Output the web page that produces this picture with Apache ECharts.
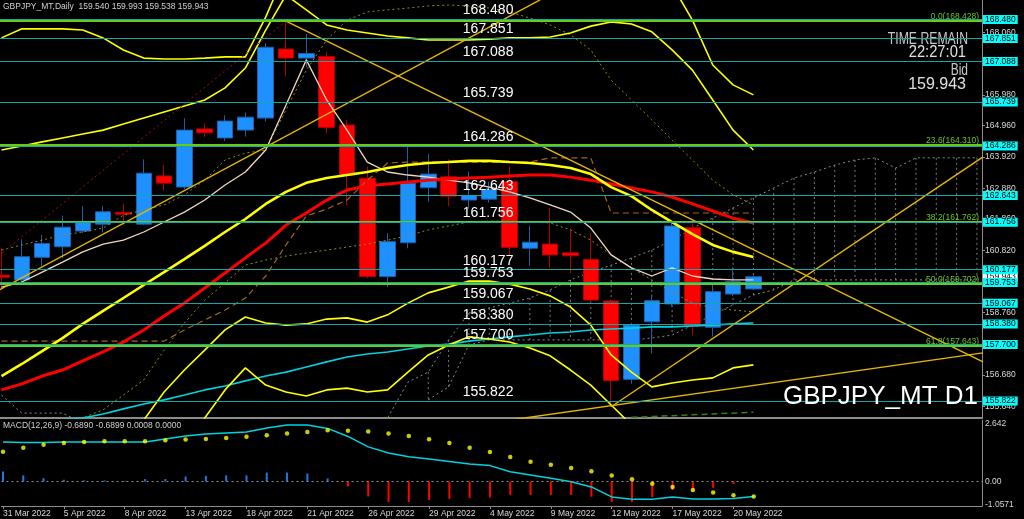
<!DOCTYPE html>
<html><head><meta charset="utf-8">
<script src="https://cdn.jsdelivr.net/npm/echarts@6/dist/echarts.min.js"></script>
<style>html,body{margin:0;padding:0;background:#000;}#c{width:1024px;height:519px;}</style>
</head><body><div id="c"></div>
<script>
const dates = ['31 Mar 2022','1 Apr 2022','4 Apr 2022','5 Apr 2022','6 Apr 2022','7 Apr 2022','8 Apr 2022','11 Apr 2022','12 Apr 2022','13 Apr 2022','14 Apr 2022','15 Apr 2022','18 Apr 2022','19 Apr 2022','20 Apr 2022','21 Apr 2022','22 Apr 2022','25 Apr 2022','26 Apr 2022','27 Apr 2022','28 Apr 2022','29 Apr 2022','2 May 2022','3 May 2022','4 May 2022','5 May 2022','6 May 2022','9 May 2022','10 May 2022','11 May 2022','12 May 2022','13 May 2022','16 May 2022','17 May 2022','18 May 2022','19 May 2022','20 May 2022','23 May 2022'];
const open  = [160.00,159.84,160.59,160.94,161.46,161.69,162.08,161.69,163.29,162.92,164.85,164.55,164.81,165.21,167.50,167.20,167.25,164.98,163.21,159.95,161.07,162.90,163.26,162.49,162.52,163.10,160.89,161.03,160.74,160.52,159.14,156.54,158.45,159.04,161.57,158.27,159.37,159.540];
const close = [159.93,160.61,161.05,161.59,161.77,162.10,162.02,163.38,163.05,164.81,164.72,165.11,165.24,167.56,167.20,167.35,164.90,163.32,159.95,161.11,163.05,163.35,162.62,162.64,162.85,160.92,161.09,160.67,160.64,159.17,156.50,158.34,159.15,161.63,158.31,159.45,159.78,159.943];
const low   = [159.50,159.75,160.28,160.56,161.40,161.41,161.66,161.65,162.80,162.85,164.58,164.45,164.60,165.10,166.60,166.90,164.70,162.32,159.90,159.60,160.89,162.43,162.29,162.20,162.40,160.67,160.31,160.22,160.06,159.10,155.63,156.40,157.40,158.95,158.01,157.96,159.30,159.538];
const high  = [160.90,161.19,161.33,161.97,162.29,162.29,162.38,163.84,163.65,165.20,165.03,165.30,165.40,167.70,168.43,168.00,167.40,165.15,163.60,161.39,164.26,164.02,163.84,163.43,163.10,163.60,161.63,162.22,161.55,161.39,159.20,158.40,159.35,161.77,161.80,159.70,160.26,159.993];

const maYellow = [156.65,157.05,157.48,157.91,158.38,158.81,159.24,159.67,160.10,160.53,160.97,161.43,161.86,162.36,162.76,163.06,163.22,163.32,163.42,163.55,163.65,163.72,163.75,163.79,163.79,163.75,163.72,163.65,163.55,163.35,162.92,162.62,162.16,161.76,161.36,161.00,160.77,160.60];
const maRed = [156.19,156.39,156.65,156.85,157.15,157.45,157.78,158.18,158.64,159.07,159.57,160.07,160.57,161.06,161.66,162.06,162.49,162.82,162.96,163.02,163.09,163.15,163.19,163.22,163.25,163.29,163.32,163.32,163.25,163.15,163.02,162.89,162.76,162.59,162.36,162.13,161.89,161.73];
const tenkan = [159.60,159.77,160.10,160.43,160.77,161.03,161.16,161.43,161.76,162.09,162.49,162.99,163.42,164.15,165.64,167.14,165.81,164.81,163.75,163.42,163.32,163.25,163.15,163.06,162.92,162.76,162.56,162.33,162.09,161.56,160.67,160.24,159.97,160.24,159.97,159.87,159.84,159.84];
const maCyan = [154.90,155.00,155.10,155.20,155.26,155.39,155.56,155.72,155.86,156.02,156.19,156.32,156.49,156.65,156.78,156.95,157.12,157.28,157.38,157.45,157.55,157.65,157.71,157.81,157.88,157.95,158.01,158.08,158.11,158.18,158.21,158.24,158.28,158.28,158.31,158.34,158.38,158.41];
const kijun = [157.81,157.81,157.81,157.81,157.81,157.81,157.81,157.81,157.81,158.18,158.51,158.84,159.24,159.97,161.00,161.96,162.19,162.49,163.15,163.72,163.75,163.75,163.75,163.75,163.75,163.75,163.75,163.89,163.89,163.89,162.06,162.06,162.06,162.06,162.06,162.06,162.06,162.06];
const bandUp2 = [164.15,164.28,164.42,164.55,164.68,164.81,165.01,165.21,165.41,165.61,165.81,166.21,166.87,168.13,169.29,168.80,168.30,168.13,168.03,167.93,167.87,167.80,167.80,167.80,167.83,167.87,167.87,167.90,168.03,168.26,168.40,168.33,168.07,167.47,166.80,165.81,164.81,164.15];
const bandUp3 = [167.87,168.17,168.17,168.17,168.13,167.87,167.47,167.20,167.17,167.17,167.20,167.24,167.24,168.56,170.12,170.5,170.5,170.5,170.5,170.5,170.5,170.5,170.5,170.5,170.5,170.5,170.5,170.5,170.5,170.5,170.5,170.5,170.5,169.62,168.46,166.97,166.31,165.98];
const bandDn2 = [153.53,153.53,153.53,153.53,153.53,153.53,153.53,155.19,156.12,156.85,157.51,158.18,158.61,158.41,158.34,158.38,158.54,158.58,158.44,158.68,159.07,159.41,159.60,159.80,159.80,159.70,159.54,159.31,158.94,158.34,157.35,156.78,156.29,156.42,156.52,156.59,156.92,157.02];
const bandDn3 = [153.0,153.0,153.0,153.0,153.0,153.0,153.0,153.0,153.0,153.8,155.26,156.19,156.92,156.35,156.12,155.99,156.19,156.25,156.12,156.19,156.78,157.35,157.68,157.95,157.88,157.78,157.58,157.32,156.85,156.35,155.69,155.03,154.5,154.5,154.5,154.5,154.5,154.5];
const oliveA = [160.83,161.00,161.16,161.33,161.43,161.56,161.99,162.16,162.33,162.66,163.15,163.82,164.05,164.15,165.48,166.80,167.80,168.46,168.73,168.80,168.86,168.93,168.96,168.93,168.86,168.73,168.53,168.30,167.97,167.47,166.47,165.81,165.15,164.48,163.82,163.15,162.66,162.33];
const oliveB = [null,null,null,154.9,155.26,155.53,156.02,156.52,157.51,158.41,159.17,159.74,160.33,160.50,160.63,160.73,160.83,160.93,161.03,161.16,161.30,161.50,161.63,161.76,161.79,161.79,161.76,161.73,161.50,161.16,160.67,160.24,159.84,159.44,159.07,158.91,158.84,158.78];
const spanA = [156.02,155.42,155.42,155.42,155.10,null,null,null,null,null,null,null,null,null,null,null,null,null,154.80,155.26,156.45,156.78,157.85,158.74,158.91,159.07,159.24,159.51,159.84,160.10,160.33,160.57,160.83,161.16,161.56,161.89,162.23,162.56,162.89,163.22,163.42,163.65,163.82,163.89,163.55,163.89,163.89,163.89,163.89];
const spanB = [null,null,null,null,null,null,null,null,null,null,null,null,null,null,null,null,null,null,null,null,null,155.86,156.29,157.68,157.85,157.85,157.85,157.85,157.85,157.85,157.85,157.85,157.91,158.01,158.34,158.68,159.01,159.34,159.51,159.84,159.84,159.84,159.84,159.84,159.84,159.84,159.84,159.84,159.84];

const trendRise = [[-0.1,159.51],[26.5,169.13]];
const trendFall = [[14,168.43],[48.3,157.12]];
const trendRiseLow = [[30,155.63],[48.3,163.92]];
const trendBase = [[20,154.71],[48.3,157.42]];
const fibBase = [[-17.7,150.98],[14,168.428]];
const greenDash = [[31,155.28],[37,155.45]];

const priceTicks = [168.060,165.980,164.960,163.920,162.880,161.860,160.820,158.760,156.680,155.640];
const hLevels = [168.480,167.851,167.088,165.739,164.286,162.643,161.756,160.177,159.753,159.067,158.380,157.700,155.822];
const fibLevels = [168.428,164.310,161.762,159.702,157.643];
const fibNames = ['0.0','23.6','38.2','50.0','61.8'];
const bidPrice = 159.943;

const macdMain = [1.815,1.79,1.79,1.815,1.815,1.815,1.815,1.815,1.95,2.09,2.18,2.23,2.27,2.46,2.60,2.60,2.44,2.07,1.59,1.31,1.14,1.03,0.92,0.80,0.73,0.45,0.30,0.15,-0.01,-0.25,-0.71,-0.82,-0.82,-0.71,-0.80,-0.80,-0.78,-0.689];
const macdSignal = [1.37,1.55,1.69,1.77,1.82,1.85,1.85,1.85,1.90,1.93,1.95,2.00,2.06,2.12,2.20,2.27,2.35,2.33,2.30,2.20,2.09,1.94,1.77,1.55,1.36,1.13,0.91,0.77,0.62,0.47,0.27,0.10,-0.10,-0.25,-0.39,-0.51,-0.63,-0.69];
const macdHist = [0.46,0.28,0.15,0.08,0.05,0.05,0.03,0.11,0.11,0.23,0.26,0.28,0.28,0.41,0.41,0.37,0.14,-0.23,-0.69,-0.94,-0.94,-0.85,-0.80,-0.76,-0.73,-0.62,-0.62,-0.62,-0.62,-0.70,-0.94,-0.94,-0.73,-0.39,-0.47,-0.29,-0.12,0.0008];
const macdTicks = [2.642,0,-1.0571];
const macdTickLabels = ['2.642','0.00','-1.0571'];
const xTickIdx = [0,3,6,9,12,15,18,21,24,27,30,33,36];

const XMIN=-0.075, XMAX=48.25;
const FONT='"Liberation Sans", Arial, sans-serif';
const pts = arr => arr.map((v,i)=>[i,v]);
const chart = echarts.init(document.getElementById('c'), null, {renderer:'canvas'});
const CLEAR = 'rgba(0,0,0,0)';

function lineS(name, arr, color, width, type, z){
  return {name, type:'line', xAxisIndex:0, yAxisIndex:0, data:pts(arr), showSymbol:false, symbol:'none',
    lineStyle:{color, width, type:type||'solid'}, z:z||3, silent:true, animation:false, clip:true};
}
function segS(seg, color, width, type){
  return {type:'line', xAxisIndex:0, yAxisIndex:0, data:seg, showSymbol:false, symbol:'none',
    lineStyle:{color, width, type:type||'solid'}, z:4, silent:true, animation:false, clip:true};
}
const hatchData = [];
spanA.forEach((a,i)=>{ if(i>=19 && a!=null && spanB[i]!=null) hatchData.push([i,a,spanB[i]]); });

const option = {
  backgroundColor:'#000',
  animation:false,
  grid:[{left:0, top:0, width:982, height:418},{left:0, top:420, width:982, height:86}],
  xAxis:[
    {type:'value', gridIndex:0, min:XMIN, max:XMAX, axisLine:{show:true, onZero:false, lineStyle:{color:'#8c8c8c', width:2}}, axisTick:{show:false}, axisLabel:{show:false}, splitLine:{show:false}},
    {type:'value', gridIndex:1, min:XMIN, max:XMAX, axisLine:{show:true, onZero:false, lineStyle:{color:'#8c8c8c', width:1}},
      axisTick:{show:true, customValues:xTickIdx, length:3, lineStyle:{color:'#8c8c8c'}},
      axisLabel:{show:true, customValues:xTickIdx, formatter:v=>dates[Math.round(v)]||'', align:'left', margin:3, color:'#d8d8d8', fontSize:8.5, fontFamily:FONT},
      splitLine:{show:false}}
  ],
  yAxis:[
    {type:'value', gridIndex:0, position:'right', min:155.258, max:169.127,
      axisLine:{show:true, onZero:false, lineStyle:{color:'#8c8c8c'}}, axisTick:{show:true, customValues:priceTicks, length:3, lineStyle:{color:'#8c8c8c'}},
      axisLabel:{customValues:priceTicks, formatter:v=>v.toFixed(3), color:'#d8d8d8', fontSize:8.5, fontFamily:FONT, margin:3}, splitLine:{show:false}},
    {type:'value', gridIndex:1, position:'right', min:-1.126, max:2.826,
      axisLine:{show:true, onZero:false, lineStyle:{color:'#8c8c8c'}}, axisTick:{show:false},
      axisLabel:{customValues:macdTicks, formatter:v=>{const k=macdTicks.findIndex(t=>Math.abs(t-v)<1e-6); return k>=0?macdTickLabels[k]:'';}, color:'#d8d8d8', fontSize:8.5, fontFamily:FONT, margin:3}, splitLine:{show:false}}
  ],
  series:[
    {type:'custom', xAxisIndex:0, yAxisIndex:0, data:hatchData, z:1, silent:true, clip:true,
      renderItem:(params, api)=>{
        const p1 = api.coord([api.value(0), api.value(1)]);
        const p2 = api.coord([api.value(0), api.value(2)]);
        return {type:'line', shape:{x1:p1[0], y1:p1[1], x2:p2[0], y2:p2[1]}, style:{stroke:'#7a7a7a', lineWidth:1, lineDash:[2,3]}};
      }},
    lineS('spanA', spanA, '#8a8a8a', 1, [2,3], 1),
    lineS('spanB', spanB, '#8a8a8a', 1, [2,3], 1),
    {type:'candlestick', xAxisIndex:0, yAxisIndex:0, z:2, barWidth:16, silent:true,
      data:dates.map((d,i)=>[i, open[i], close[i], low[i], high[i]]), encode:{x:0, y:[1,2,3,4]},
      itemStyle:{color:'#1e90ff', color0:'#ff0000', borderColor:'#1f5fa8', borderColor0:'#b00000', borderWidth:1}},
    lineS('oliveB', oliveB, '#8f8f18', 1, [2,3], 3),
    lineS('oliveA', oliveA, '#8f8f18', 1, [2,3], 3),
    lineS('kijun', kijun, '#a0681c', 1.2, [6,4], 3),
    lineS('cyan', maCyan, '#00d2e0', 1.6, 'solid', 3),
    lineS('tenkan', tenkan, '#f0d8c0', 1.3, 'solid', 3),
    lineS('up3', bandUp3, '#ffff00', 1.6, 'solid', 3),
    lineS('up2', bandUp2, '#ffff00', 1.6, 'solid', 3),
    lineS('dn2', bandDn2, '#ffff00', 1.6, 'solid', 3),
    lineS('dn3', bandDn3, '#ffff00', 1.6, 'solid', 3),
    lineS('red', maRed, '#ff0000', 3, 'solid', 3),
    lineS('yellow', maYellow, '#ffff00', 2.6, 'solid', 3),
    segS(trendRise, '#e8b800', 1.4),
    segS(trendFall, '#e8b800', 1.4),
    segS(trendRiseLow, '#e8b800', 1.4),
    segS(trendBase, '#e8b800', 1.4),
    segS(fibBase, '#a01010', 1, [2,3]),
    segS(greenDash, '#3f7a12', 1.5, [6,4]),
    {type:'line', xAxisIndex:0, yAxisIndex:0, data:[], z:4, silent:true,
      markLine:{silent:true, symbol:'none', animation:false, precision:3,
        lineStyle:{color:'#66cc1a', width:2, type:'solid'},
        label:{show:true, position:'insideEndTop', distance:[3,0], color:'#6fc21f', fontSize:8.5, fontFamily:FONT,
          formatter:p=>fibNames[p.dataIndex]+'('+fibLevels[p.dataIndex].toFixed(3)+')'},
        data:fibLevels.map(v=>({yAxis:v}))}},
    {type:'line', xAxisIndex:0, yAxisIndex:0, data:[], z:5, silent:true,
      markLine:{silent:true, symbol:'none', animation:false, precision:3, lineStyle:{color:CLEAR, width:1},
        label:{show:true, position:'end', distance:1, formatter:()=>bidPrice.toFixed(3), backgroundColor:'#ffffff', color:'#000', fontSize:8.5, fontFamily:FONT, padding:[0,2,0,2], lineHeight:9},
        data:[{yAxis:bidPrice}]}},
    {type:'line', xAxisIndex:0, yAxisIndex:0, data:[], z:6, silent:true,
      markLine:{silent:true, symbol:'none', animation:false, precision:3,
        lineStyle:{color:'#14a6a6', width:1, type:'solid'},
        label:{show:true, position:'end', distance:1, formatter:p=>hLevels[p.dataIndex].toFixed(3), backgroundColor:'#00ffff', color:'#000', fontSize:8.5, fontFamily:FONT, padding:[0,2,0,2], lineHeight:9},
        data:hLevels.map(v=>({yAxis:v}))}},
    {type:'line', xAxisIndex:0, yAxisIndex:0, data:[], z:7, silent:true,
      markLine:{silent:true, symbol:'none', animation:false, precision:3, lineStyle:{color:CLEAR, width:1},
        label:{show:true, position:'insideStartTop', distance:[0,2], color:'#ffffff', fontSize:14, fontFamily:FONT,
          formatter:p=>hLevels[p.dataIndex].toFixed(3)},
        data:hLevels.map(v=>[{coord:[22.7, v]},{coord:[30, v]}])}},
    {type:'bar', xAxisIndex:1, yAxisIndex:1, data:pts(macdHist), barWidth:2, silent:true,
      itemStyle:{color:p=>p.value[1]>=0?'#1e78e0':'#ff0000'},
      markLine:{silent:true, symbol:'none', animation:false, label:{show:false}, lineStyle:{color:'#8c8c8c', type:[2,3], width:1}, data:[{yAxis:0}]}},
    {type:'line', xAxisIndex:1, yAxisIndex:1, data:pts(macdMain), showSymbol:false, symbol:'none', lineStyle:{color:'#00d2e0', width:1.5}, silent:true},
    {type:'scatter', xAxisIndex:1, yAxisIndex:1, data:pts(macdSignal), symbolSize:4.5, itemStyle:{color:'#ffff00'}, silent:true, z:5}
  ],
  graphic:[
    {type:'text', x:3, y:7, style:{text:'GBPJPY_MT,Daily  159.540 159.993 159.538 159.943', fill:'#d0d0d0', font:'8.5px '+FONT, verticalAlign:'middle'}},
    {type:'text', x:3, y:426, style:{text:'MACD(12,26,9) -0.6890 -0.6899 0.0008 0.0000', fill:'#d0d0d0', font:'8.5px '+FONT, verticalAlign:'middle'}},
    {type:'text', x:968, y:39, scaleX:0.72, style:{text:'TIME REMAIN', fill:'#c8c8c8', font:'17px '+FONT, align:'right', verticalAlign:'middle'}},
    {type:'text', x:966, y:53, scaleX:0.92, style:{text:'22:27:01', fill:'#e0e0e0', font:'16px '+FONT, align:'right', verticalAlign:'middle'}},
    {type:'text', x:968, y:71, scaleX:0.75, style:{text:'Bid', fill:'#c8c8c8', font:'16px '+FONT, align:'right', verticalAlign:'middle'}},
    {type:'text', x:966, y:85, style:{text:'159.943', fill:'#e0e0e0', font:'16px '+FONT, align:'right', verticalAlign:'middle'}},
    {type:'text', x:978, y:410, style:{text:'GBPJPY_MT D1', fill:'#ffffff', font:'26px '+FONT, align:'right', verticalAlign:'bottom'}, z:100}
  ]
};
chart.setOption(option);
</script></body></html>
